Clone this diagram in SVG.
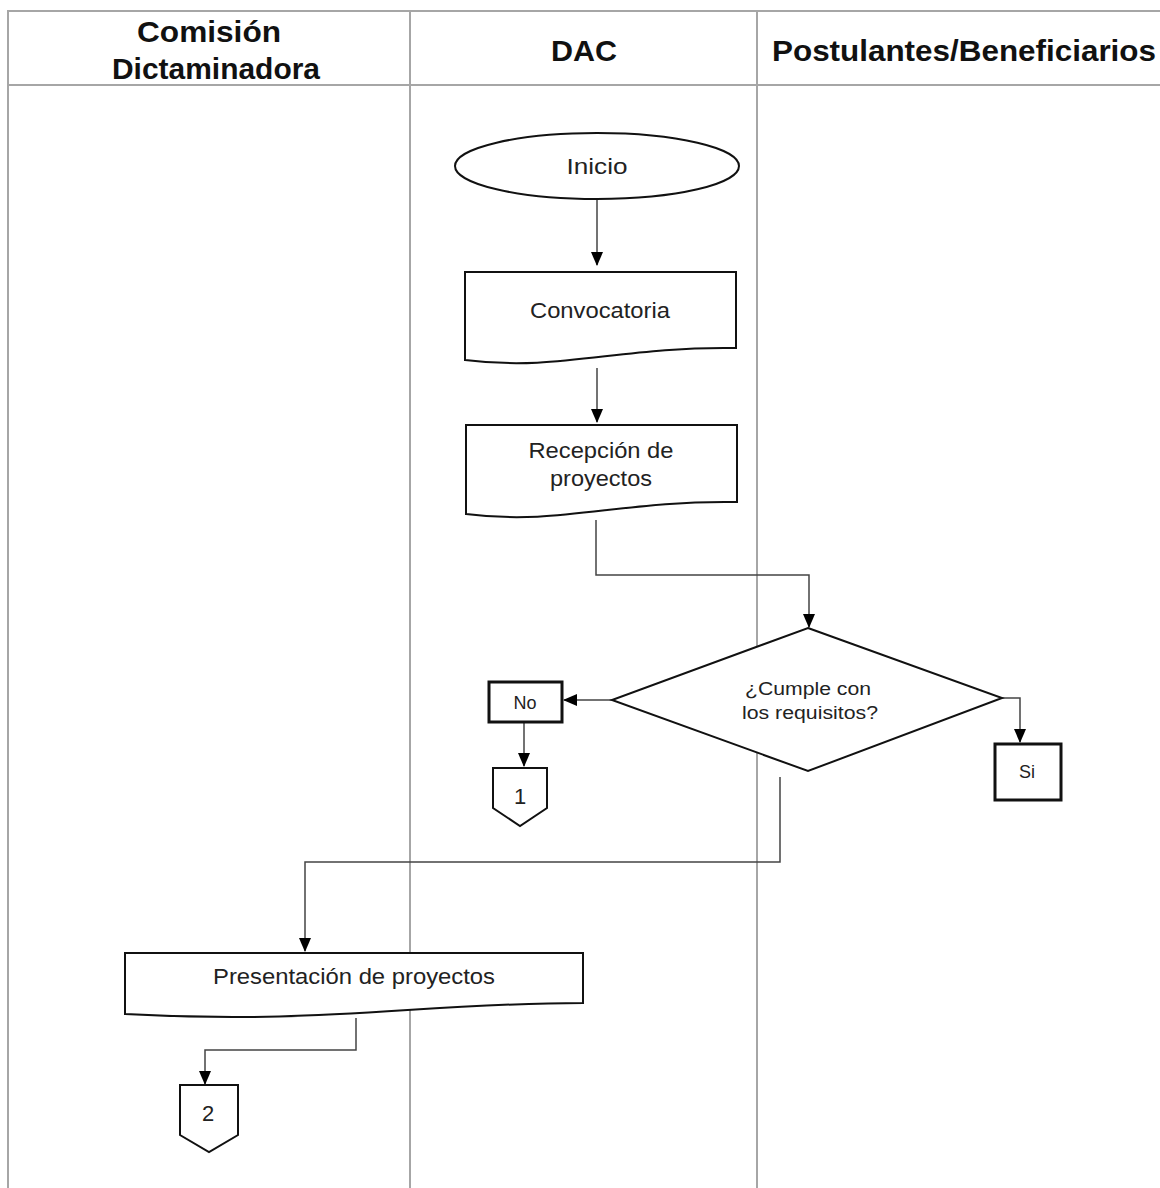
<svg xmlns="http://www.w3.org/2000/svg" width="1160" height="1188" viewBox="0 0 1160 1188">
<style>
.lane{stroke:#a6a6a6;stroke-width:2;fill:none}
.shape{fill:#fff;stroke:#111;stroke-width:2}
.thick{fill:#fff;stroke:#111;stroke-width:3}
.conn{fill:none;stroke:#444;stroke-width:1.5}
.hdr{font-family:"Liberation Sans",Arial,sans-serif;font-weight:bold;font-size:30px;fill:#111;text-anchor:middle}
.lbl{font-family:"Liberation Sans",Arial,sans-serif;font-size:22px;fill:#222;text-anchor:middle}
.sm{font-family:"Liberation Sans",Arial,sans-serif;font-size:18px;fill:#222;text-anchor:middle}
</style>
<defs>
<marker id="arr" markerWidth="14" markerHeight="14" refX="13" refY="7" orient="auto" markerUnits="userSpaceOnUse">
<path d="M0,1 L14,7 L0,13 Z" fill="#000"/>
</marker>
</defs>
<rect width="1160" height="1188" fill="#fff"/>
<g id="lanes">
<path class="lane" d="M8,1188 V11 H1160"/>
<path class="lane" d="M8,85 H1160"/>
<path class="lane" d="M410,11 V1188"/>
<path class="lane" d="M757,11 V1188"/>
<text class="hdr" x="209" y="42" textLength="144" lengthAdjust="spacingAndGlyphs">Comisión</text>
<text class="hdr" x="216" y="79" textLength="208" lengthAdjust="spacingAndGlyphs">Dictaminadora</text>
<text class="hdr" x="584" y="61" textLength="66" lengthAdjust="spacingAndGlyphs">DAC</text>
<text class="hdr" x="964" y="61" textLength="384" lengthAdjust="spacingAndGlyphs">Postulantes/Beneficiarios</text>
</g>
<g id="connectors">
<path class="conn" d="M597,200 V265" marker-end="url(#arr)"/>
<path class="conn" d="M597,368 V422" marker-end="url(#arr)"/>
<path class="conn" d="M596,520 V575 H809 V627" marker-end="url(#arr)"/>
<path class="conn" d="M612,700 H564" marker-end="url(#arr)"/>
<path class="conn" d="M524,723 V766" marker-end="url(#arr)"/>
<path class="conn" d="M984,698 H1020 V742" marker-end="url(#arr)"/>
<path class="conn" d="M780,777 V862 H305 V951" marker-end="url(#arr)"/>
<path class="conn" d="M356,1018 V1050 H205 V1084" marker-end="url(#arr)"/>
</g>
<g id="inicio">
<ellipse class="shape" cx="597" cy="166" rx="142" ry="33"/>
<text class="lbl" x="597" y="174" font-size="23" textLength="61" lengthAdjust="spacingAndGlyphs">Inicio</text>
</g>
<g id="convocatoria">
<path class="shape" d="M465,272 H736 V348 C620,346 560,372 465,360 Z"/>
<text class="lbl" x="600" y="318" textLength="140" lengthAdjust="spacingAndGlyphs">Convocatoria</text>
</g>
<g id="recepcion">
<path class="shape" d="M466,425 H737 V502 C620,500 560,526 466,514 Z"/>
<text class="lbl" x="601" y="458" textLength="145" lengthAdjust="spacingAndGlyphs">Recepción de</text>
<text class="lbl" x="601" y="486" textLength="102" lengthAdjust="spacingAndGlyphs">proyectos</text>
</g>
<g id="decision">
<path class="shape" d="M808,628 L1002,698 L808,771 L612,700 Z"/>
<text class="sm" x="808" y="695" textLength="126" lengthAdjust="spacingAndGlyphs">¿Cumple con</text>
<text class="sm" x="810" y="719" textLength="136" lengthAdjust="spacingAndGlyphs">los requisitos?</text>
</g>
<g id="no">
<rect class="thick" x="489" y="682" width="73" height="40"/>
<text class="sm" x="525" y="709">No</text>
</g>
<g id="si">
<rect class="thick" x="995" y="744" width="66" height="56"/>
<text class="sm" x="1027" y="778">Si</text>
</g>
<g id="conector1">
<path class="shape" d="M493,768 H547 V808 L520,826 L493,808 Z"/>
<text class="lbl" x="520" y="804" font-size="21">1</text>
</g>
<g id="presentacion">
<path class="shape" d="M125,953 H583 V1003 C420,1003 320,1025 125,1014 Z"/>
<text class="lbl" x="354" y="984" textLength="282" lengthAdjust="spacingAndGlyphs">Presentación de proyectos</text>
</g>
<g id="conector2">
<path class="shape" d="M180,1085 H238 V1135 L209,1152 L180,1135 Z"/>
<text class="lbl" x="208" y="1121" font-size="21">2</text>
</g>
</svg>
